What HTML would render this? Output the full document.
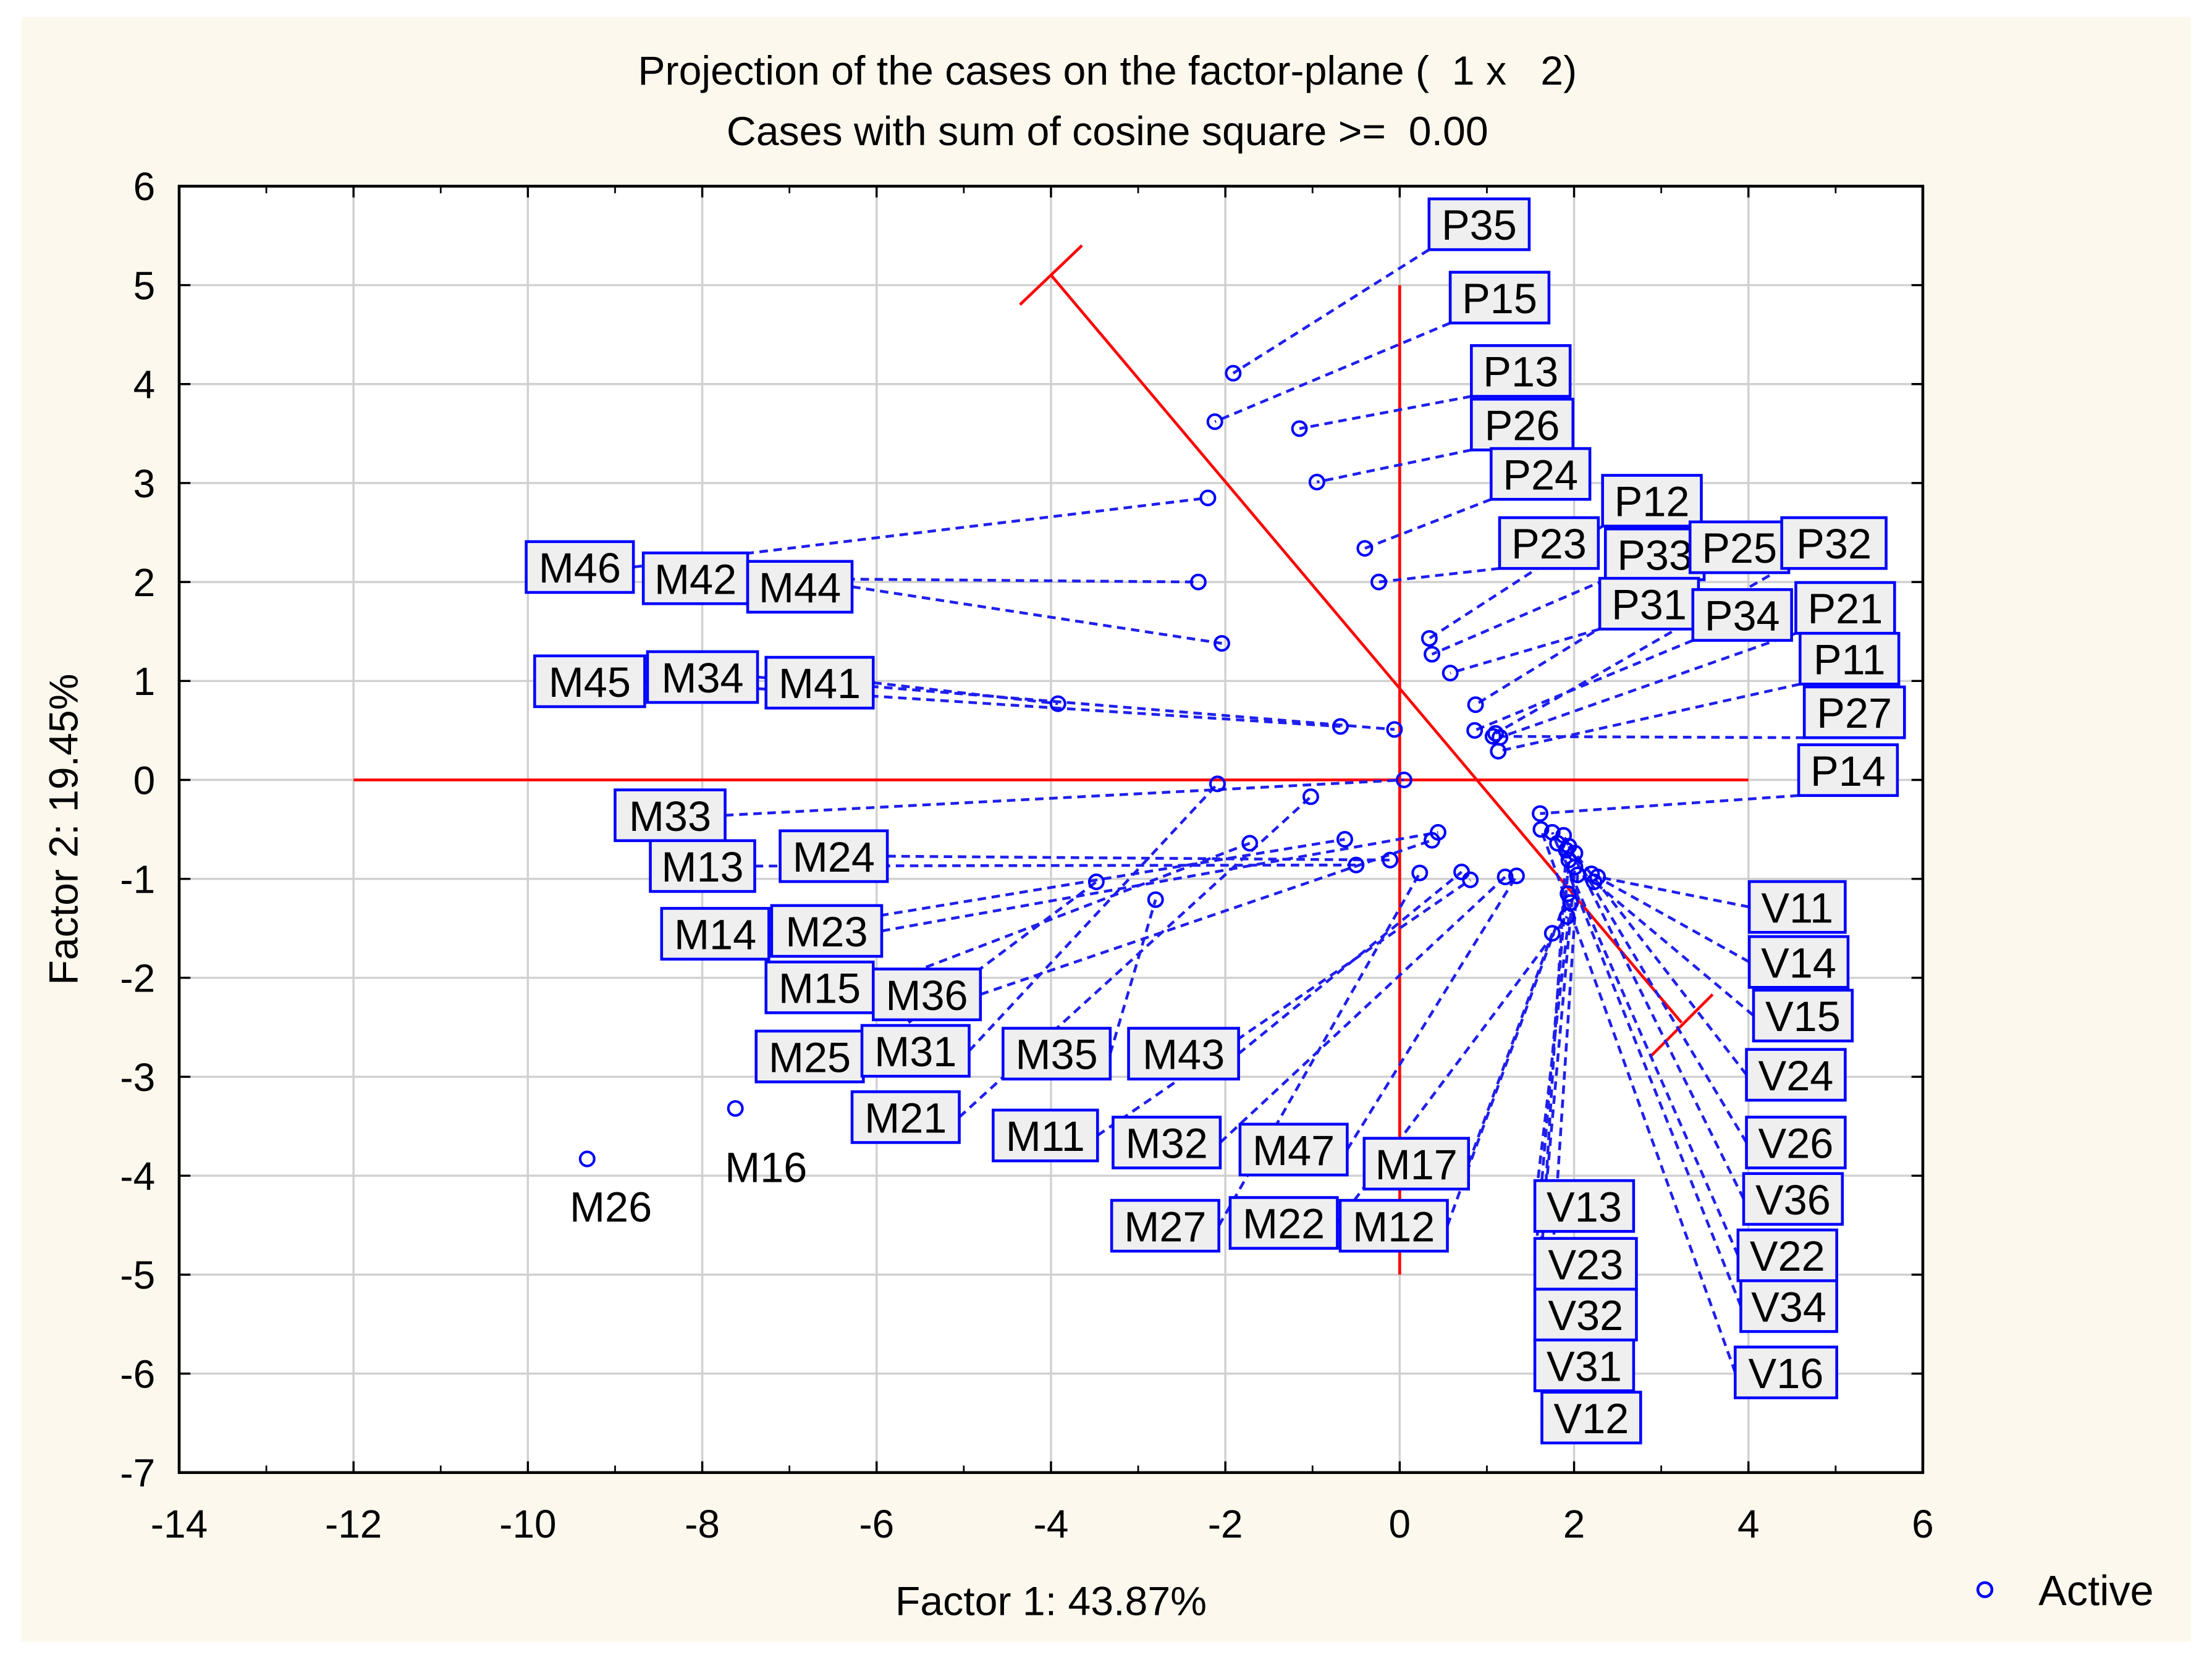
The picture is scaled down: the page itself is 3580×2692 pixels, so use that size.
<!DOCTYPE html>
<html><head><meta charset="utf-8">
<style>
html,body{margin:0;padding:0;background:#fff;}
svg{display:block;font-family:"Liberation Sans",sans-serif;}
</style></head>
<body>
<svg id="chart" width="3580" height="2692" viewBox="0 0 1568 1179" preserveAspectRatio="none" xmlns="http://www.w3.org/2000/svg">
<rect x="0" y="0" width="1568" height="1179" fill="#ffffff"/>
<rect x="15" y="12" width="1538" height="1152" fill="#fcf8ee"/>
<rect x="127" y="132" width="1236" height="912" fill="#ffffff"/>
<g id="grid"></g>
<g id="axes"></g>
<g id="red"></g>
<g id="links"></g>
<g id="pts"></g>
<g id="labels"></g>
<rect x="127" y="132" width="1236" height="912" fill="none" stroke="#000" stroke-width="2"/>
<text x="785" y="60" font-size="29" text-anchor="middle">Projection of the cases on the factor-plane (&#160; 1 x &#160; 2)</text>
<text x="785" y="103" font-size="29" text-anchor="middle">Cases with sum of cosine square &gt;= &#160;0.00</text>
<text x="745" y="1145" font-size="29" text-anchor="middle">Factor 1: 43.87%</text>
<text transform="translate(55,588) rotate(-90)" font-size="29" text-anchor="middle">Factor 2: 19.45%</text>
<g>
<circle cx="1407" cy="1127" r="5" fill="none" stroke="#0000ff" stroke-width="2"/>
<text x="1445" y="1138" font-size="30">Active</text>
</g>
</svg>
<script>
const xTicks=[-14,-12,-10,-8,-6,-4,-2,0,2,4,6];
const yTicks=[6,5,4,3,2,1,0,-1,-2,-3,-4,-5,-6,-7];
const names=["P35","P15","P13","P26","P24","P23","P12","P33","P31","P25","P34","P32","P21","P11","P27","P14",
"M46","M42","M44","M45","M34","M41","M33","M13","M24","M14","M23","M15","M36","M25","M27","M35","M43","M21","M11","M32","M47","M17","M31","M22","M12",
"V11","V14","V15","V24","V26","V36","V22","V34","V16","V13","V23","V32","V31","V12","M26","M16"];
const xVals=[-1.91,-2.12,-1.15,-0.95,-0.40,-0.24,0.34,0.37,0.58,0.87,0.86,1.10,1.15,1.13,1.07,1.61,
-2.20,-2.31,-2.04,-0.68,-0.06,-3.92,0.05,-0.50,-0.11,-0.63,0.44,-1.72,0.37,-3.48,0.23,-2.80,0.71,-1.02,0.81,1.21,1.34,1.75,-2.09,1.92,1.93,
2.27,2.20,2.23,2.01,1.94,1.88,1.81,1.75,1.62,1.96,1.94,2.01,1.91,2.04,-9.32,-7.62];
const yVals=[4.11,3.62,3.55,3.01,2.34,2.00,1.43,1.27,1.08,0.76,0.50,0.47,0.43,0.29,0.44,-0.34,
2.85,2.00,1.38,0.54,0.51,0.77,0.00,-0.86,-0.81,-0.60,-0.53,-0.64,-0.61,-1.03,-0.94,-1.21,-0.93,-0.17,-1.01,-0.98,-0.97,-1.55,-0.04,-1.38,-1.15,
-0.98,-0.95,-1.03,-0.74,-0.67,-0.56,-0.64,-0.53,-0.50,-1.24,-0.81,-0.88,-0.71,-0.96,-3.83,-3.32];
// label layout (display px boxes: left, top, width) — layout only, not data
const boxLayout={P35:[1013,141,71],P15:[1028,193,70],P13:[1043,245,70],P26:[1043,283,72],P24:[1057,318,70],P12:[1136,337,70],P23:[1063,367,70],P33:[1138,375,70],P25:[1198,370,70],P32:[1263,367,74],P31:[1134,410,70],P34:[1200,418,70],P21:[1273,413,70],P11:[1276,449,70],P27:[1279,487,71],P14:[1275,528,70],
M46:[373,384,76],M42:[456,392,74],M44:[530,398,74],M45:[379,465,78],M34:[459,462,78],M41:[543,466,76],M33:[436,560,78],M13:[461,596,74],M24:[553,589,76],M14:[469,644,76],M23:[547,642,78],M15:[543,682,76],M36:[619,687,76],M25:[536,731,76],M31:[611,727,76],M35:[711,729,76],M43:[800,729,78],M21:[604,774,76],M11:[704,787,74],M32:[789,792,76],M47:[879,797,76],M17:[967,807,74],M27:[788,851,76],M22:[872,849,76],M12:[950,851,76],
V11:[1240,625,68],V14:[1240,664,70],V15:[1243,702,70],V24:[1238,744,70],V26:[1238,792,70],V36:[1236,832,70],V22:[1232,872,70],V34:[1234,908,68],V16:[1230,955,72],V13:[1088,837,70],V23:[1088,878,72],V32:[1088,914,72],V31:[1088,950,70],V12:[1093,987,70]};
const plainLabels={M26:[433,866],M16:[543,838]};
const NS="http://www.w3.org/2000/svg";
const X0=127,X1=1363,Y0=132,Y1=1044;
function sx(v){return X0+(v-(-14))/20*(X1-X0);}
function sy(v){return Y0+(6-v)/13*(Y1-Y0);}
function mk(tag,attrs,parent){const e=document.createElementNS(NS,tag);for(const k in attrs)e.setAttribute(k,attrs[k]);document.getElementById(parent).appendChild(e);return e;}
xTicks.forEach(t=>{
  if(t>-14&&t<6){const g=mk('line',{x1:sx(t),x2:sx(t),y1:Y0,y2:Y1,stroke:'#d0d0d0','stroke-width':1.5},'grid');
  
  }
  const l=mk('text',{x:sx(t),y:1090,'font-size':28,'text-anchor':'middle'},'axes');l.textContent=t;
  
  
  mk('line',{x1:sx(t),x2:sx(t),y1:Y1,y2:Y1-8,stroke:'#000','stroke-width':1.5},'axes');
  mk('line',{x1:sx(t),x2:sx(t),y1:Y0,y2:Y0+8,stroke:'#000','stroke-width':1.5},'axes');
  if(t<6){mk('line',{x1:sx(t+1),x2:sx(t+1),y1:Y1,y2:Y1-5,stroke:'#000','stroke-width':1.2},'axes');
  mk('line',{x1:sx(t+1),x2:sx(t+1),y1:Y0,y2:Y0+5,stroke:'#000','stroke-width':1.2},'axes');}
});
yTicks.forEach(t=>{
  if(t<6&&t>-7){const g=mk('line',{x1:X0,x2:X1,y1:sy(t),y2:sy(t),stroke:'#d0d0d0','stroke-width':1.5},'grid');
  
  }
  const l=mk('text',{x:110,y:sy(t)+10,'font-size':28,'text-anchor':'end'},'axes');l.textContent=t;
  
  
  mk('line',{x1:X0,x2:X0+8,y1:sy(t),y2:sy(t),stroke:'#000','stroke-width':1.5},'axes');
  mk('line',{x1:X1,x2:X1-8,y1:sy(t),y2:sy(t),stroke:'#000','stroke-width':1.5},'axes');
});
const rh=mk('line',{x1:sx(-12),x2:sx(4),y1:sy(0),y2:sy(0),stroke:'#ff0000','stroke-width':2},'red');


const rv=mk('line',{x1:sx(0),x2:sx(0),y1:sy(5),y2:sy(-5),stroke:'#ff0000','stroke-width':2},'red');


const rd=mk('line',{x1:745,y1:195,x2:1192,y2:725,stroke:'#ff0000','stroke-width':2},'red');


const c1=mk('line',{x1:723,y1:216,x2:767,y2:174,stroke:'#ff0000','stroke-width':2},'red');


const c2=mk('line',{x1:1170,y1:749,x2:1214,y2:705,stroke:'#ff0000','stroke-width':2},'red');


names.forEach((n,i)=>{
  const px=sx(xVals[i]),py=sy(yVals[i]);
  const c=mk('circle',{cx:px,cy:py,r:5,fill:'none',stroke:'#0000ff','stroke-width':1.8},'pts');
  
  
  if(boxLayout[n]){
    const [bx,by,bw]=boxLayout[n];const bh=36;
    let ax,ay;
    if(n[0]==='P'){ax=bx;ay=by+bh;}
    else if(n[0]==='M'){ax=bx+bw;ay=by+bh/2;}
    else{ax=bx;ay=by+bh/2;}
    const ln=mk('line',{x1:ax,y1:ay,x2:px,y2:py,stroke:'#1f1fee','stroke-width':2,'stroke-dasharray':'6,4'},'links');
    
    
    const r=mk('rect',{x:bx,y:by,width:bw,height:bh,fill:'#efefef',stroke:'#0000ff','stroke-width':2},'labels');
    
    
    const t=mk('text',{x:bx+bw/2,y:by+29,'font-size':30,'text-anchor':'middle',fill:'#000'},'labels');
    t.textContent=n;
    
    
  } else if(plainLabels[n]){
    const t=mk('text',{x:plainLabels[n][0],y:plainLabels[n][1],'font-size':30,'text-anchor':'middle',fill:'#000'},'labels');
    t.textContent=n;
    
    
  }
});
</script>
</body></html>
